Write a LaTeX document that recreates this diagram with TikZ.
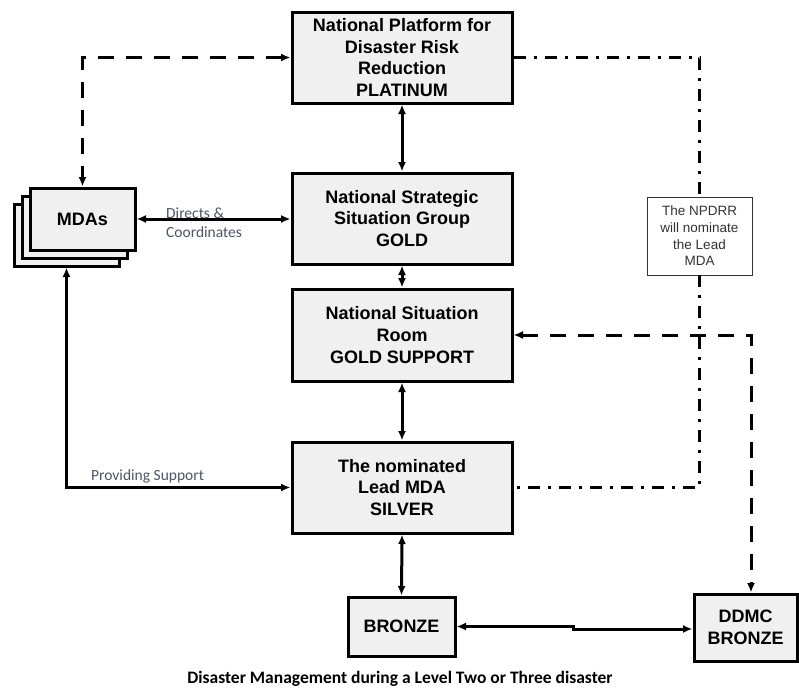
\documentclass[tikz,border=0pt]{standalone}
\usepackage{fontspec}
\setmainfont{Liberation Sans}
\newfontfamily\calibri{Carlito}
\usetikzlibrary{arrows.meta}
\definecolor{boxgray}{HTML}{F0F0F0}
\definecolor{lblcol}{HTML}{4A5468}
\definecolor{notecol}{HTML}{333333}
\begin{document}
\begin{tikzpicture}[x=1pt,y=-1pt,
  box/.style={draw, line width=3pt, fill=boxgray, align=center, inner sep=0pt,
    font=\bfseries\fontsize{18}{21.8}\selectfont},
  bigbox/.style={box, minimum width=220pt, minimum height=91pt},
  tip/.tip={Latex[length=9.5pt,width=8pt]},
  conn/.style={line width=3pt, tip-tip},
  dashconn/.style={line width=3pt, dash pattern=on 16pt off 12pt, tip-tip},
  dotconn/.style={line width=2.6pt, dash pattern=on 12pt off 8pt on 3pt off 8pt},
  lbl/.style={font=\calibri\fontsize{15.5}{19}\selectfont, text=lblcol, inner sep=0pt, align=left},
  note/.style={draw=notecol, line width=0.9pt, fill=white, align=center, inner sep=0pt,
    minimum width=105pt, minimum height=78pt, text=notecol, font=\fontsize{13.5}{16.7}\selectfont}
]
\useasboundingbox (0,0) rectangle (799,691);

% main column
\node[bigbox] (plat) at (402,57.5) {National Platform for\\Disaster Risk\\Reduction\\PLATINUM};
\node[bigbox] (gold) at (402,218.5) {National Strategic\\Situation Group\\GOLD};
\node[bigbox, minimum height=92pt] (goldsup) at (402,335) {National Situation\\Room\\GOLD SUPPORT};
\node[bigbox] (silver) at (402,487.5) {The nominated\\Lead MDA\\SILVER};
\node[box, minimum width=107pt, minimum height=59pt] (bronze) at (401.5,626.5) {BRONZE};
\node[box, minimum width=103pt, minimum height=67pt] (ddmc) at (745.5,627.5) {DDMC\\BRONZE};

% MDAs stack
\node[box, minimum width=105pt, minimum height=62pt] (mdas3) at (66.5,235) {};
\node[box, minimum width=105pt, minimum height=62pt] (mdas2) at (74.5,227) {};
\node[box, minimum width=105pt, minimum height=62pt] (mdas) at (82.5,219) {MDAs};

% note
\node[note] (note) at (699.5,236) {The NPDRR\\will nominate\\the Lead\\MDA};

% solid connectors
\draw[conn] (plat.south) -- (gold.north);
\draw[conn] (gold.south) -- (goldsup.north);
\draw[conn] (goldsup.south) -- (silver.north);
\draw[conn] (silver.south) -- (bronze.north);
\draw[conn] (mdas.east) -- (mdas.east -| gold.west);
\draw[conn] (mdas3.south) |- (silver.west);
\coordinate (jog) at (573,626.5);
\coordinate (jog2) at (573,629);
\draw[conn] (bronze.east) -- (jog) -- (jog2) -- (jog2 -| ddmc.west);

% dashed connectors
\draw[dashconn] (plat.west) -| (mdas.north);
\coordinate (dk) at (751,335);
\draw[dashconn] (goldsup.east) -- (dk) -- (dk |- ddmc.north);

% dash-dot connectors
\draw[dotconn] (plat.east) -| (note.north);
\draw[dotconn] (note.south) |- (silver.east);

% labels
\node[lbl, anchor=west] (dirlbl) at (166,223) {Directs \&\\Coordinates};
\node[lbl, anchor=west] (suplbl) at (91,476) {Providing Support};

% caption
\node[font=\calibri\bfseries\fontsize{17.5}{20}\selectfont, inner sep=0pt] (caption) at (400,679)
  {Disaster Management during a Level Two or Three disaster};
\end{tikzpicture}
\end{document}
